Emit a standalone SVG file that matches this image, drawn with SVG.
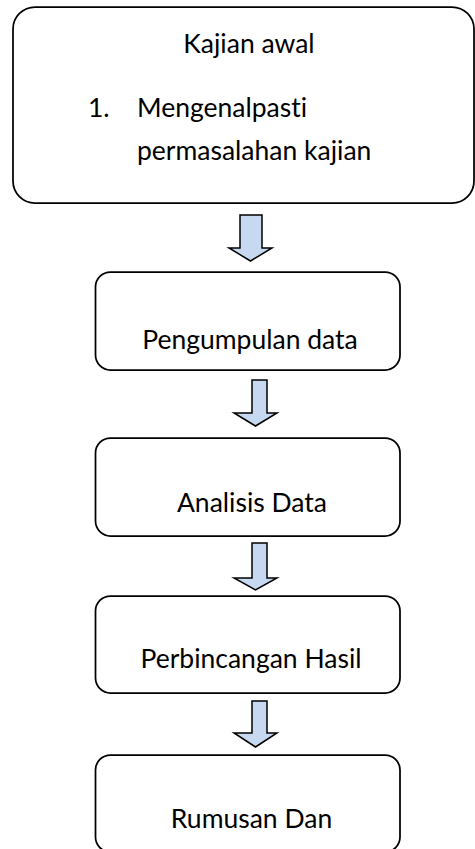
<svg xmlns="http://www.w3.org/2000/svg" width="475" height="849" viewBox="0 0 475 849">
  <style>
    .box { fill: #ffffff; stroke: #000000; stroke-width: 1.75; }
    .arrow { fill: #c6d9f1; stroke: #000000; stroke-width: 1.5; stroke-linejoin: miter; }
    .label { font-family: Lato, "Open Sans", "Liberation Sans", sans-serif; font-size: 26.5px; fill: #000000; font-variant-ligatures: none; }
    .mid { text-anchor: middle; }
  </style>
  <rect width="475" height="849" fill="#ffffff"/>

  <g id="connectors">
    <path class="arrow" d="M240,215 H262 V248 H272 L250.5,261 L229,248 H240 Z"/>
    <path class="arrow" d="M252,380 H267 V413 H277 L255.5,426 L234,413 H252 Z"/>
    <path class="arrow" d="M252,543 H267 V578 H277 L255.5,590 L234,578 H252 Z"/>
    <path class="arrow" d="M252,701 H267 V733 H277 L255.5,747 L234,733 H252 Z"/>
  </g>

  <g id="kajian-awal">
    <rect class="box" x="13" y="7" width="461" height="196" rx="22" ry="22"/>
    <text class="label mid" x="249" y="53">Kajian awal</text>
    <text class="label" x="88" y="117">1.</text>
    <text class="label" x="137" y="117">Mengenalpasti</text>
    <text class="label" x="137" y="160">permasalahan kajian</text>
  </g>

  <g id="pengumpulan-data">
    <rect class="box" x="95.5" y="272" width="304.5" height="98" rx="15" ry="15"/>
    <text class="label mid" x="250" y="349">Pengumpulan data</text>
  </g>

  <g id="analisis-data">
    <rect class="box" x="95.5" y="438" width="304.5" height="98" rx="15" ry="15"/>
    <text class="label mid" x="252" y="512">Analisis Data</text>
  </g>

  <g id="perbincangan-hasil">
    <rect class="box" x="95.5" y="596" width="304.5" height="97" rx="15" ry="15"/>
    <text class="label mid" x="251" y="668">Perbincangan Hasil</text>
  </g>

  <g id="rumusan-dan">
    <rect class="box" x="95.5" y="755" width="304.5" height="97" rx="15" ry="15"/>
    <text class="label mid" x="251.5" y="828">Rumusan Dan</text>
  </g>
</svg>
